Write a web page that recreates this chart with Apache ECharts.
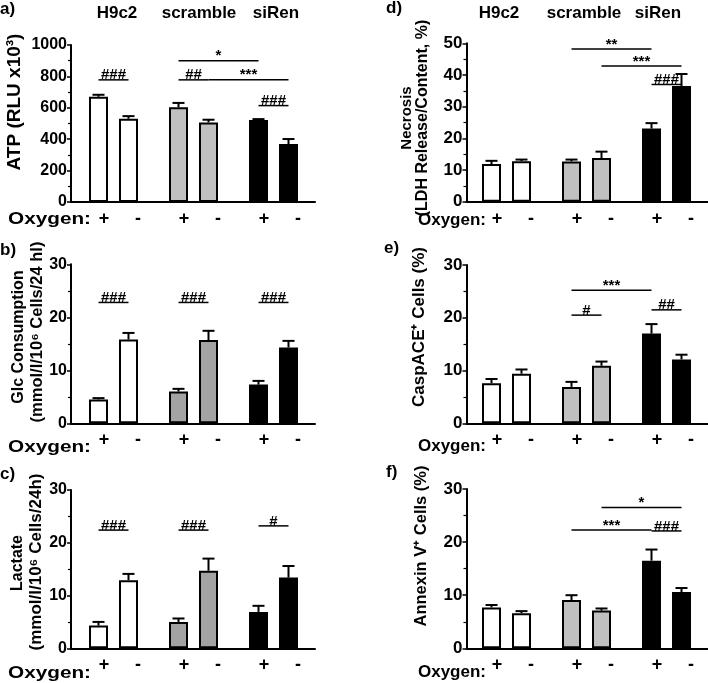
<!DOCTYPE html>
<html><head><meta charset="utf-8">
<script src="https://cdn.jsdelivr.net/npm/echarts@6/dist/echarts.min.js"></script>
<style>html,body{margin:0;padding:0;background:#fff}#c{width:708px;height:683px}</style>
</head><body><div id="c"></div>
<script>
// ---------- data ----------
const groups = ['H9c2', 'scramble', 'siRen'];
const oxygen = ['+', '-', '+', '-', '+', '-'];
const panelLetters = ['a)', 'b)', 'c)', 'd)', 'e)', 'f)'];

const atpMean = [670, 530, 603, 507, 522, 369];
const atpErr  = [13, 17, 28, 17, 6, 32];
const glcMean = [4.5, 15.8, 6.0, 15.7, 7.3, 14.3];
const glcErr  = [0.25, 1.25, 0.5, 1.75, 0.7, 1.25];
const lacMean = [4.3, 12.9, 5.0, 14.7, 6.9, 13.4];
const lacErr  = [0.7, 1.2, 0.65, 2.3, 1.15, 2.2];
const necMean = [11.9, 12.8, 12.7, 13.8, 23.1, 36.5];
const necErr  = [1.0, 0.5, 0.6, 2.0, 1.7, 3.8];
const caspMean = [7.6, 9.4, 6.9, 10.9, 17.0, 12.1];
const caspErr  = [0.8, 0.8, 0.95, 0.8, 1.8, 0.9];
const annMean = [7.7, 6.6, 9.1, 7.1, 16.5, 10.6];
const annErr  = [0.45, 0.4, 0.9, 0.4, 2.1, 0.75];

// significance brackets: [fromBar, toBar, level, label]
const atpSig  = [[0, 1, 778, '###'], [2, 4, 900, '*'], [2, 3, 778, '##'], [3, 5, 778, '***'], [4, 5, 614, '###']];
const glcSig  = [[0, 1, 22.8, '###'], [2, 3, 22.8, '###'], [4, 5, 22.8, '###']];
const lacSig  = [[0, 1, 22.4, '###'], [2, 3, 22.4, '###'], [4, 5, 23.2, '#']];
const necSig  = [[2, 4, 48.2, '**'], [3, 5, 42.8, '***'], [4, 5, 37.0, '###']];
const caspSig = [[2, 4, 25.2, '***'], [2, 3, 20.5, '#'], [4, 5, 21.5, '##']];
const annSig  = [[3, 5, 26.5, '*'], [2, 4, 22.3, '***'], [4, 5, 22.1, '###']];

const yMax      = [1000, 30, 30, 50, 30, 30];
const yInterval = [200, 10, 10, 10, 10, 10];

const yTitles = [
  ['ATP (RLU x10³)'],
  ['Glc Consumption', '(mmol/l/10⁶ Cells/24 hl)'],
  ['Lactate', '(mmol/l/10⁶ Cells/24h)'],
  ['Necrosis', '(LDH Release/Content, %)'],
  ['CaspACE⁺ Cells (%)'],
  ['Annexin V⁺ Cells (%)']
];

// ---------- layout ----------
const FONT = '"Liberation Sans", Arial, sans-serif';
const barSlot = [0, 3, 8, 11, 16, 19];       // bar positions on the x value axis (10 px per unit)
const leftX = { left: 71, width: 244, min: -2.75, max: 21.65 };
const rightX = { left: 466.5, width: 241.5, min: -2.5, max: 21.65 };
const gridsY = [
  { top: 45, height: 157 }, { top: 264.3, height: 159 }, { top: 490, height: 158.3 },
  { top: 43.3, height: 158.4 }, { top: 265, height: 158.3 }, { top: 489, height: 159.3 }
];
const greyA = '#c0c0c0', greyB = '#a3a3a3';
const panelColors = [
  ['#ffffff', greyA, '#000000'], ['#ffffff', greyB, '#000000'], ['#ffffff', greyB, '#000000'],
  ['#ffffff', greyA, '#000000'], ['#ffffff', greyA, '#000000'], ['#ffffff', greyA, '#000000']
];
const titleLayout = [
  [{ x: 15, y: 102, s: 19 }],
  [{ x: 19, y: 337, s: 16 }, { x: 37, y: 332, s: 16.5 }],
  [{ x: 18, y: 563, s: 16 }, { x: 36, y: 562, s: 17 }],
  [{ x: 407, y: 118, s: 15 }, { x: 423, y: 118, s: 16 }],
  [{ x: 419, y: 327, s: 17 }],
  [{ x: 421, y: 546, s: 16.5 }]
];
const letterPos = [[0, 9], [0, 250], [0, 474], [386, 8], [384, 248], [386, 472]];
const oxyPos = [[91, 219, 1.22], [91, 447, 1.22], [91, 673, 1.22], [486, 220, 1], [486, 446, 1], [486, 672, 1]];
const headerPos = [[117, 13], [199, 13], [276, 13], [499, 13], [584, 13], [658, 13]];

const means = [atpMean, glcMean, lacMean, necMean, caspMean, annMean];
const errs = [atpErr, glcErr, lacErr, necErr, caspErr, annErr];
const sigs = [atpSig, glcSig, lacSig, necSig, caspSig, annSig];

const grid = [], xAxis = [], yAxis = [], series = [], graphic = [];

for (let p = 0; p < 6; p++) {
  const X = p < 3 ? leftX : rightX;
  const tickFont = p < 3 ? 16 : 17;
  grid.push({ left: X.left, width: X.width, top: gridsY[p].top, height: gridsY[p].height });
  xAxis.push({
    type: 'value', gridIndex: p, min: X.min, max: X.max,
    splitLine: { show: false }, axisTick: { show: false },
    axisLine: { show: true, onZero: false, lineStyle: { color: '#000', width: 2 } },
    axisLabel: {
      customValues: barSlot,
      margin: 8,
      formatter: v => { const i = barSlot.indexOf(v); return oxygen[i] === '+' ? '{p|+}' : '{m|-}'; },
      rich: {
        p: { fontFamily: FONT, fontWeight: 'bold', fontSize: 18, color: '#000', padding: [0, 0, 0, 11] },
        m: { fontFamily: FONT, fontWeight: 'bold', fontSize: 18, color: '#000', padding: [0, 0, 0, 19] }
      }
    }
  });
  yAxis.push({
    type: 'value', gridIndex: p, min: 0, max: yMax[p], interval: yInterval[p],
    splitLine: { show: false },
    axisLine: { show: true, onZero: false, lineStyle: { color: '#000', width: 2 } },
    axisTick: { show: true, length: 4, lineStyle: { color: '#000', width: 1.5 } },
    minorTick: { show: true, splitNumber: 2, length: 3, lineStyle: { color: '#000', width: 1.2 } },
    minorSplitLine: { show: false },
    axisLabel: { fontFamily: FONT, fontWeight: 'bold', fontSize: tickFont, color: '#000', margin: 4,
      formatter: v => String(v) }
  });

  // bars
  series.push({
    type: 'bar', xAxisIndex: p, yAxisIndex: p, barWidth: 19,
    data: means[p].map((v, i) => ({
      value: [barSlot[i], v],
      itemStyle: { color: panelColors[p][Math.floor(i / 2)], borderColor: '#000', borderWidth: 2 }
    }))
  });
  // error bars (upper only)
  series.push({
    type: 'custom', xAxisIndex: p, yAxisIndex: p, clip: false, z: 1,
    data: means[p].map((v, i) => [barSlot[i], v, v + errs[p][i]]),
    encode: { x: 0, y: [1, 2] },
    renderItem: (params, api) => {
      const a = api.coord([api.value(0), api.value(1)]);
      const b = api.coord([api.value(0), api.value(2)]);
      const st = { stroke: '#000', lineWidth: 2 };
      return { type: 'group', children: [
        { type: 'line', shape: { x1: a[0], y1: a[1], x2: b[0], y2: b[1] }, style: st },
        { type: 'line', shape: { x1: b[0] - 6, y1: b[1], x2: b[0] + 6, y2: b[1] }, style: st }
      ] };
    }
  });
  // significance brackets
  const sg = sigs[p];
  series.push({
    type: 'custom', xAxisIndex: p, yAxisIndex: p, clip: false, z: 5,
    data: sg.map(s => [barSlot[s[0]], barSlot[s[1]], s[2]]),
    encode: { x: [0, 1], y: 2 },
    renderItem: (params, api) => {
      const a = api.coord([api.value(0), api.value(2)]);
      const b = api.coord([api.value(1), api.value(2)]);
      const txt = sg[params.dataIndex][3];
      return { type: 'group', children: [
        { type: 'line', shape: { x1: a[0], y1: a[1], x2: b[0], y2: b[1] }, style: { stroke: '#000', lineWidth: 1.5 } },
        { type: 'text', x: (a[0] + b[0]) / 2, y: a[1] + 3,
          style: { text: txt, fontFamily: FONT, fontWeight: 'bold', fontSize: 15, fill: '#000', align: 'center', verticalAlign: 'bottom' } }
      ] };
    }
  });

  // y titles
  yTitles[p].forEach((t, k) => {
    const L = titleLayout[p][k];
    graphic.push({ type: 'text', x: L.x, y: L.y, rotation: Math.PI / 2,
      style: { text: t, fontFamily: FONT, fontWeight: 'bold', fontSize: L.s, fill: '#000', align: 'center', verticalAlign: 'middle' } });
  });
  // panel letter
  graphic.push({ type: 'text', x: letterPos[p][0], y: letterPos[p][1],
    style: { text: panelLetters[p], fontFamily: FONT, fontWeight: 'bold', fontSize: 17, fill: '#000', align: 'left', verticalAlign: 'middle' } });
  // Oxygen label
  graphic.push({ type: 'text', x: oxyPos[p][0], y: oxyPos[p][1], scaleX: oxyPos[p][2],
    style: { text: 'Oxygen:', fontFamily: FONT, fontWeight: 'bold', fontSize: 17, fill: '#000', align: 'right', verticalAlign: 'middle' } });
}
groups.concat(groups).forEach((g, i) => {
  graphic.push({ type: 'text', x: headerPos[i][0], y: headerPos[i][1],
    style: { text: g, fontFamily: FONT, fontWeight: 'bold', fontSize: 17, fill: '#000', align: 'center', verticalAlign: 'middle' } });
});

const chart = echarts.init(document.getElementById('c'), null, { renderer: 'canvas' });
chart.setOption({ animation: false, backgroundColor: '#fff', grid, xAxis, yAxis, series, graphic });
</script></body></html>
